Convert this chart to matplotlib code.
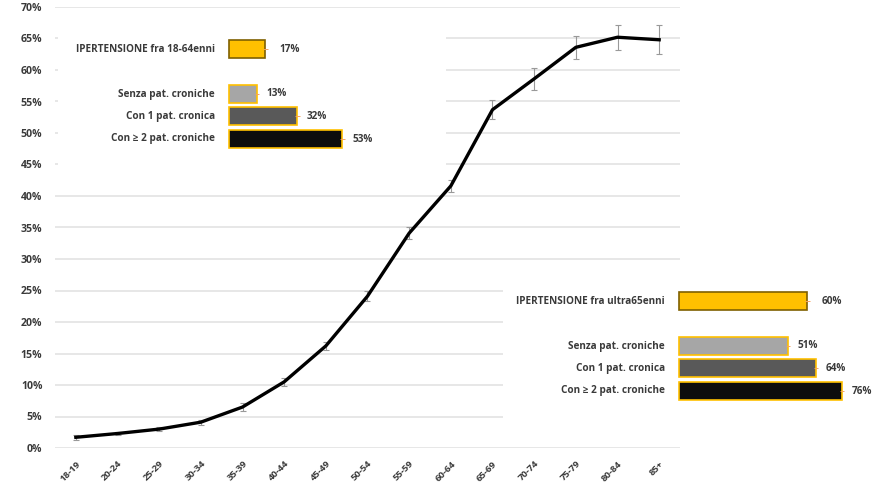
import matplotlib.pyplot as plt
from matplotlib.ticker import FuncFormatter

plt.rcParams['font.family'] = ['Open Sans', 'DejaVu Sans']

# Prevalenza dell'ipertensione per classe d'età (%)
age_groups = ["18-19", "20-24", "25-29", "30-34", "35-39", "40-44", "45-49",
              "50-54", "55-59", "60-64", "65-69", "70-74", "75-79", "80-84", "85+"]
prevalence = [1.7, 2.3, 3.0, 4.1, 6.5, 10.5, 16.2, 24.1, 34.1, 41.6,
              53.7, 58.6, 63.6, 65.2, 64.8]
prev_err = [0.4, 0.3, 0.3, 0.4, 0.6, 0.6, 0.7, 0.8, 0.9, 1.0,
            1.5, 1.7, 1.8, 2.0, 2.3]

# Riquadri per fascia d'età
young_title = "IPERTENSIONE fra 18-64enni"
young_total = 17
old_title = "IPERTENSIONE fra ultra65enni"
old_total = 60
chronic_labels = ["Senza pat. croniche", "Con 1 pat. cronica", "Con \u2265 2 pat. croniche"]
young_chronic = [13, 32, 53]
old_chronic = [51, 64, 76]

W, H = 885, 490
fig = plt.figure(figsize=(W / 100, H / 100), dpi=100)
fig.patch.set_facecolor("white")


def px_axes(x0, y0, x1, y1, **kw):
    return fig.add_axes([x0 / W, 1 - y1 / H, (x1 - x0) / W, (y1 - y0) / H], **kw)


txt_color = "#3a3a3a"

ax = px_axes(55, 7, 680, 448)
x = range(len(age_groups))
ax.errorbar(x, prevalence, yerr=prev_err, color="black", lw=2.4,
            ecolor="#999999", elinewidth=0.8, capsize=2, capthick=0.8, zorder=3)
ax.set_xlim(-0.5, len(age_groups) - 0.5)
ax.set_ylim(0, 70)
ax.set_yticks(range(0, 71, 5))
ax.yaxis.set_major_formatter(FuncFormatter(lambda v, p: f"{v:.0f}%"))
ax.set_xticks(list(x))
ax.set_xticklabels(age_groups, rotation=45, ha="right", rotation_mode="anchor")
ax.grid(axis="y", color="#e3e3e3", lw=1.2)
ax.set_axisbelow(True)
for s in ax.spines.values():
    s.set_visible(False)
ax.tick_params(axis="y", length=0, labelsize=7.6, colors=txt_color, pad=9)
ax.tick_params(axis="x", length=0, labelsize=6.8, colors=txt_color, pad=8)
for lab in ax.get_xticklabels() + ax.get_yticklabels():
    lab.set_fontweight("bold")

bar_colors = ["#a6a6a6", "#595959", "#0d0d0d"]
yellow = "#ffc000"


def inset(box, zero_px, first_px, title, total, values):
    x0, y0, x1, y1 = box
    scale = 2.14  # px per percentage point
    iax = px_axes(x0, y0, x1, y1)
    iax.set_facecolor("white")
    iax.set_xlim(-(zero_px - x0) / scale, (x1 - zero_px) / scale)
    iax.set_ylim((y1 - first_px) / 22.5, -(first_px - y0) / 22.5)
    iax.set_xticks([])
    iax.set_yticks([])
    for s in iax.spines.values():
        s.set_visible(False)
    pos = [0, 2, 3, 4]
    vals = [total] + values
    cols = [yellow] + bar_colors
    edges = ["#7f6000"] + [yellow] * 3
    labels = [title] + chronic_labels
    iax.barh(pos, vals, height=0.8, color=cols, edgecolor=edges, lw=1.2,
             xerr=[1.0] * 4, error_kw=dict(ecolor="#f4a460", elinewidth=0.7, capsize=0))
    for p, v, lab in zip(pos, vals, labels):
        iax.text(-6.5, p, lab, ha="right", va="center", fontsize=7.2,
                 fontweight="bold", color=txt_color)
        iax.text(v + 4.5 + (2 if p == 0 else 0), p, f"{v}%", ha="left", va="center",
                 fontsize=7.2, fontweight="bold", color=txt_color)


inset((58, 20, 446, 172), 229, 49, young_title, young_total, young_chronic)
inset((503, 272, 885, 425), 679, 301, old_title, old_total, old_chronic)

fig.savefig("out.png", dpi=100)
